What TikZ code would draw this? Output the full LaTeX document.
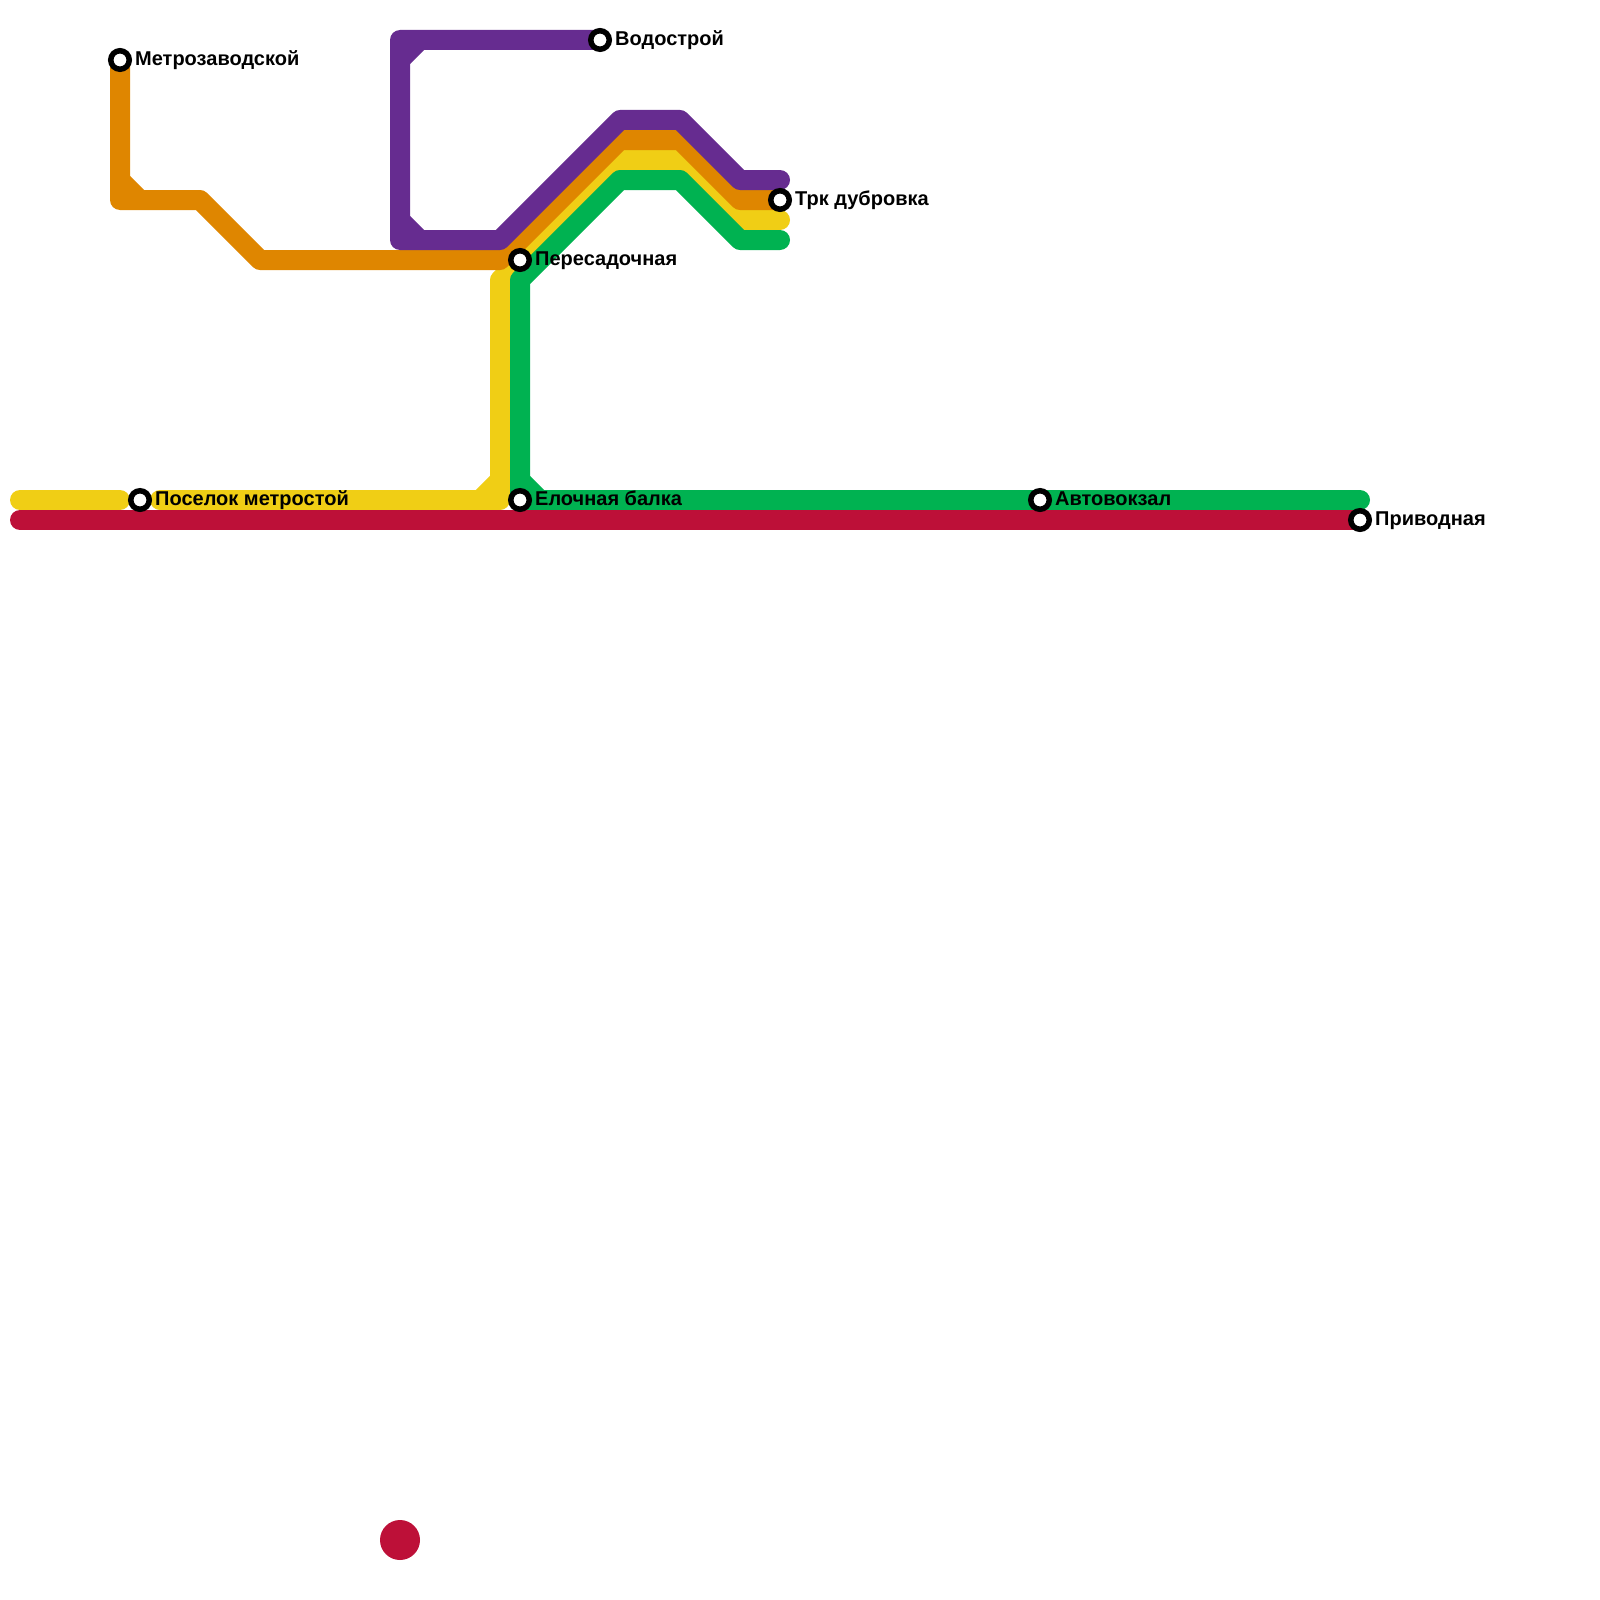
\documentclass[tikz,border=0pt]{standalone}
\usepackage{fontspec}
\setmainfont{Liberation Sans}
\usetikzlibrary{backgrounds}
\definecolor{lorange}{HTML}{DF8600}
\definecolor{lpurple}{HTML}{662C90}
\definecolor{lyellow}{HTML}{F0CE15}
\definecolor{lgreen}{HTML}{00B251}
\definecolor{lred}{HTML}{BD1038}
\tikzset{
  route/.style={line width=20pt,line cap=round,line join=round},
  chord/.style={line width=20pt,line cap=butt},
  station/.style={circle,draw=black,fill=white,line width=5.5pt,minimum size=18.5pt,inner sep=0pt},
  stlabel/.style={anchor=base west,inner sep=0pt,font=\fontsize{20}{24}\selectfont\bfseries,text=black}
}
\begin{document}
\begin{tikzpicture}[x=1pt,y=-1pt]
\useasboundingbox (0,0) rectangle (1600,1600);
% stations
\node[station] (metro) at (120,60) {};
\node[station] (vodo) at (600,40) {};
\node[station] (trk) at (780,200) {};
\node[station] (peres) at (520,260) {};
\node[station] (pos) at (140,500) {};
\node[station] (elo) at (520,500) {};
\node[station] (avto) at (1040,500) {};
\node[station] (priv) at (1360,520) {};
% labels
\node[stlabel] (lmetro) at (135,66) {Метрозаводской};
\node[stlabel] (lvodo) at (615,46) {Водострой};
\node[stlabel] (ltrk) at (795,205) {Трк дубровка};
\node[stlabel] (lperes) at (535,265) {Пересадочная};
\node[stlabel] (lpos) at (155,505) {Поселок метростой};
\node[stlabel] (lelo) at (535,505) {Елочная балка};
\node[stlabel] (lavto) at (1055,505) {Автовокзал};
\node[stlabel] (lpriv) at (1375,525) {Приводная};
% free ends and bends
\foreach \n/\x/\y in {
  oa/120/200, ob/200/200, oc/260/260, od/500/260, oe/620/140, of/680/140, og/740/200,
  oh/120/180, oi/140/200,
  pa/400/40, pb/400/240, pc/500/240, pd/620/120, pe/680/120, pf/740/180, pg/780/180,
  ph/400/60, pi/420/40, pj/400/220, pk/420/240,
  ya/20/500, yb/120/500, yc/160/500, yd/500/500, ye/500/280, yf/620/160, yg/680/160, yh/740/220, yi/780/220,
  yj/500/480, yk/480/500,
  ga/520/280, gb/620/180, gc/680/180, gd/740/240, ge/780/240, gf/1360/500,
  gg/520/480, gh/540/500,
  ra/20/520}
  {\coordinate (\n) at (\x,\y);}
\begin{scope}[on background layer]
  % yellow
  \draw[route,lyellow] (ya) -- (yb);
  \draw[route,lyellow] (yc) -- (yd) -- (ye) -- (yf) -- (yg) -- (yh) -- (yi);
  \draw[chord,lyellow] (yj) -- (yk);
  % orange
  \draw[route,lorange] (metro.center) -- (oa) -- (ob) -- (oc) -- (od) -- (oe) -- (of) -- (og) -- (trk.center);
  \draw[chord,lorange] (oh) -- (oi);
  % purple
  \draw[route,lpurple] (vodo.center) -- (pa) -- (pb) -- (pc) -- (pd) -- (pe) -- (pf) -- (pg);
  \draw[chord,lpurple] (ph) -- (pi);
  \draw[chord,lpurple] (pj) -- (pk);
  % green
  \draw[route,lgreen] (gf) -- (elo.center) -- (ga) -- (gb) -- (gc) -- (gd) -- (ge);
  \draw[chord,lgreen] (gg) -- (gh);
  % red
  \draw[route,lred] (ra) -- (priv.center);
\end{scope}
\node[circle,fill=lred,minimum size=40pt,inner sep=0pt] (dot) at (400,1540) {};
\end{tikzpicture}
\end{document}
